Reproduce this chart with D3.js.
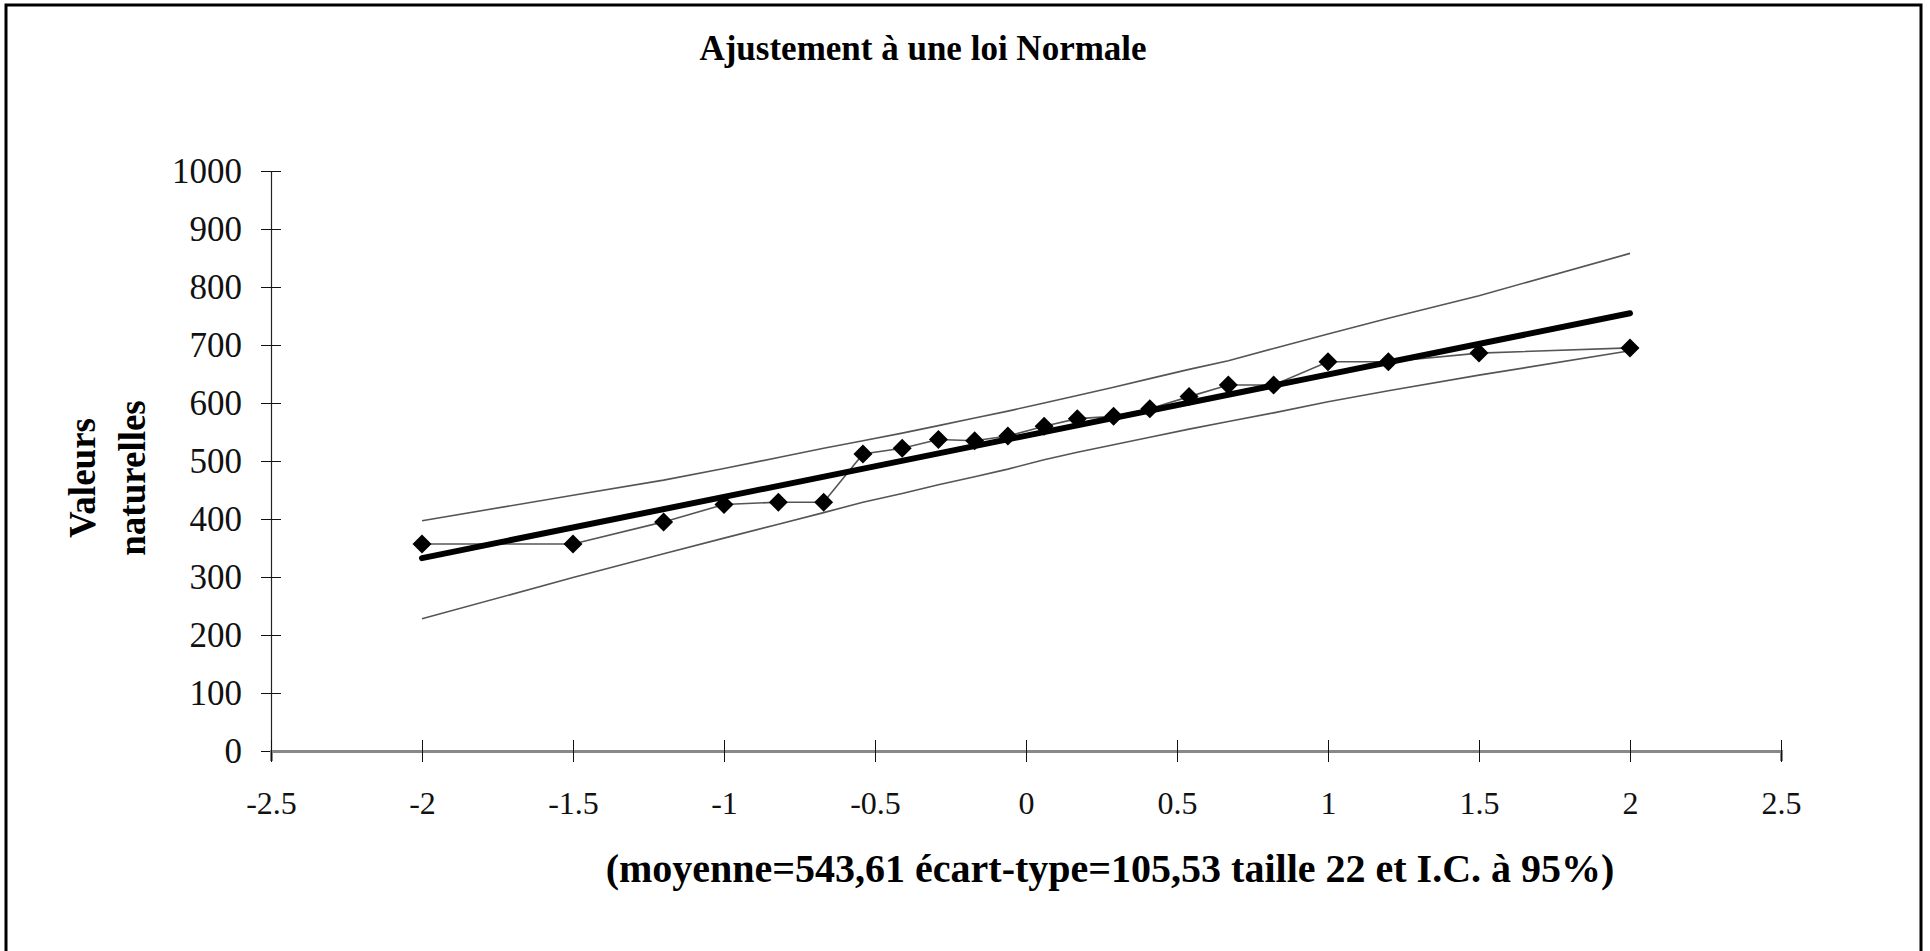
<!DOCTYPE html>
<html>
<head>
<meta charset="utf-8">
<script src="https://cdn.jsdelivr.net/npm/d3@7"></script>
<style>
  body { margin: 0; background: #fff; }
  text { font-family: "Liberation Serif", "Times New Roman", serif; }
</style>
</head>
<body>
<div id="chart"></div>
<script>
// quantiles of the normal law (x) and observed values (y)
var quantiles = [-2, -1.5, -1.2, -1, -0.82, -0.67, -0.54, -0.41, -0.29, -0.17, -0.06,
                 0.06, 0.17, 0.29, 0.41, 0.54, 0.67, 0.82, 1, 1.2, 1.5, 2];
var observed = [357, 357, 395, 425, 429, 429, 512, 522, 537, 535, 543,
                560, 573, 577, 590, 611, 631, 631, 671, 671, 686, 695];
var upperBand = [397, 441, 467, 487, 506, 522, 535, 548, 561, 574, 586,
                 600, 613, 627, 642, 658, 673, 694, 719, 746, 785, 858];
var lowerBand = [228, 299, 340, 367, 391, 411, 429, 444, 459, 473, 486,
                 502, 515, 528, 541, 555, 568, 583, 602, 621, 648, 690];
var fitX = [-2, 2];
var fitY = [332.6, 754.7];
var xTicks = [-2.5, -2, -1.5, -1, -0.5, 0, 0.5, 1, 1.5, 2, 2.5];
var yTicks = [0, 100, 200, 300, 400, 500, 600, 700, 800, 900, 1000];

var W = 1930, H = 951;
var svg = d3.select("#chart").append("svg").attr("width", W).attr("height", H);

// frame
svg.append("rect").attr("x", 6).attr("y", 5).attr("width", 1915).attr("height", 970)
    .attr("fill", "none").attr("stroke", "#000").attr("stroke-width", 3);

var x = d3.scaleLinear().domain([-2.5, 2.5]).range([271, 1781]);
var y = d3.scaleLinear().domain([0, 1000]).range([751, 171]);

// y axis
var yAxis = svg.append("g").attr("transform", "translate(271,0)")
    .call(d3.axisLeft(y).tickValues(yTicks).tickSize(10).tickFormat(d3.format("d")));
yAxis.select(".domain").attr("stroke", "#222").attr("stroke-width", 1.2);
yAxis.selectAll(".tick line").attr("x2", 10).attr("x1", -10).attr("stroke", "#111");
yAxis.selectAll(".tick text").attr("x", -29).attr("font-size", 35).attr("fill", "#111")
    .attr("font-family", "Liberation Serif");

// x axis
var xAxis = svg.append("g").attr("transform", "translate(0,751)")
    .call(d3.axisBottom(x).tickValues(xTicks).tickSize(10).tickFormat(d => String(d)));
xAxis.select(".domain").attr("stroke", "#888").attr("stroke-width", 3);
xAxis.selectAll(".tick line").attr("y1", -11).attr("y2", 11).attr("stroke", "#111");
xAxis.selectAll(".tick text").attr("y", 52).attr("dy", "0.35em").attr("font-size", 32).attr("fill", "#111")
    .attr("font-family", "Liberation Serif");

// confidence bands
var band = d3.line().x((d, i) => x(quantiles[i])).y(d => y(d));
svg.append("path").attr("d", band(upperBand)).attr("fill", "none").attr("stroke", "#555").attr("stroke-width", 1.6);
svg.append("path").attr("d", band(lowerBand)).attr("fill", "none").attr("stroke", "#555").attr("stroke-width", 1.6);

// observed line
svg.append("path").attr("d", band(observed)).attr("fill", "none").attr("stroke", "#555").attr("stroke-width", 1.6);

// fitted line
svg.append("path").attr("d", d3.line().x((d, i) => x(fitX[i])).y(d => y(d))(fitY))
    .attr("fill", "none").attr("stroke", "#000").attr("stroke-width", 6).attr("stroke-linecap", "round");

// diamonds
svg.selectAll(".pt").data(observed).enter().append("path").classed("pt", true)
    .attr("d", d3.symbol().type(d3.symbolDiamond2).size(230))
    .attr("transform", (d, i) => `translate(${x(quantiles[i])},${y(d)})`)
    .attr("fill", "#000");

// titles
svg.append("text").attr("x", 923).attr("y", 60).attr("text-anchor", "middle")
    .attr("font-size", 35).attr("font-weight", "bold").text("Ajustement à une loi Normale");

var ylab = svg.append("g").attr("transform", "translate(0,478) rotate(-90)");
ylab.append("text").attr("x", 0).attr("y", 95).attr("text-anchor", "middle")
    .attr("font-size", 37).attr("font-weight", "bold").text("Valeurs");
ylab.append("text").attr("x", 0).attr("y", 145).attr("text-anchor", "middle")
    .attr("font-size", 37).attr("font-weight", "bold").text("naturelles");

svg.append("text").attr("x", 1110).attr("y", 882).attr("text-anchor", "middle")
    .attr("font-size", 40).attr("font-weight", "bold")
    .text("(moyenne=543,61 écart-type=105,53 taille 22 et I.C. à 95%)");
</script>
</body>
</html>
